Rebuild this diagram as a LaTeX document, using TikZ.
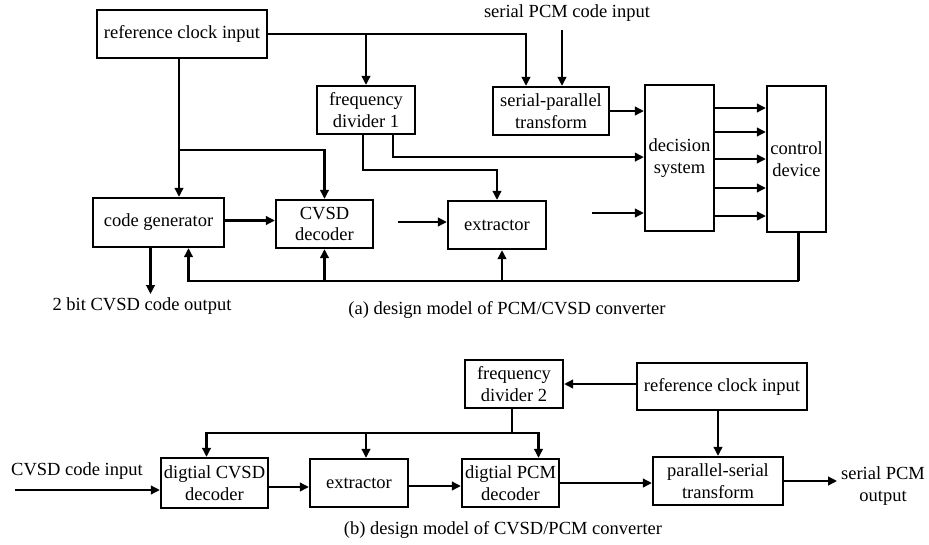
\documentclass[tikz,border=0pt]{standalone}
\usepackage{fontspec}
\setmainfont{Liberation Serif}
\usetikzlibrary{arrows.meta,calc}
\begin{document}
\begin{tikzpicture}[x=1pt,y=-1pt,
  every node/.style={font=\fontsize{18.5}{21.5}\selectfont},
  blk/.style={draw,line width=2.2pt,inner sep=0pt,align=center},
  lbl/.style={inner sep=0pt,align=center},
  arr/.style={line width=2.2pt,-{Triangle[length=9pt,width=8.5pt]}},
  ln/.style={line width=2.2pt}]
\useasboundingbox (0,0) rectangle (929,544);
% ---- part (a) ----
\node[blk,minimum width=170pt,minimum height=48pt] (rc1) at (182,34) {reference clock input};
\node[blk,minimum width=98pt,minimum height=48pt] (fd1) at (366,110) {frequency\\divider 1};
\node[blk,minimum width=116pt,minimum height=48pt] (sp) at (551,111) {serial-parallel\\transform};
\node[blk,minimum width=69pt,minimum height=146pt] (ds) at (679.5,158) {decision\\system};
\node[blk,minimum width=59pt,minimum height=146pt] (cd) at (796.5,159) {control\\device};
\node[blk,minimum width=131pt,minimum height=49pt] (cg) at (158.5,222.5) {code generator};
\node[blk,minimum width=97pt,minimum height=48pt] (cvsd) at (324.5,224) {CVSD\\decoder};
\node[blk,minimum width=98pt,minimum height=48pt] (ex1) at (497,225) {extractor};
\node[lbl] (pcmin) at (567,13) {serial PCM code input};
\node[lbl] (cgout) at (142,306) {2 bit CVSD code output};
\node[lbl] (capa) at (507,310) {(a) design model of PCM/CVSD converter};
\coordinate (pcmtop) at (562,30);
\coordinate (dsin) at (592,213);
\coordinate (exin) at (398,222);
% connectors (a)
\draw[arr] (rc1.east) -| ([xshift=-25pt]sp.north);
\draw[arr] (rc1.east -| fd1.north) -- (fd1.north);
\draw[arr] (pcmtop) -- (pcmtop |- sp.north);
\draw[arr] ([xshift=-3pt]rc1.south) -- ([xshift=-3pt]rc1.south |- cg.north);
\draw[arr] ($(rc1.south)+(-3,91)$) -| (cvsd.north);
\draw[arr] ([xshift=-3pt]fd1.south) -- ++(0,35) -| (ex1.north);
\draw[arr] ([xshift=27pt]fd1.south) -- ++(0,22) coordinate (k) -- (k -| ds.west);
\draw[arr] (sp.east) -- (sp.east -| ds.west);
\draw[arr] (dsin) -- (dsin -| ds.west);
\foreach \d in {-50,-26,1,30,58}
  \draw[arr] ($(ds.east)+(0,\d)$) -- ($(ds.east -| cd.west)+(0,\d)$);
\draw[ln] ([xshift=2pt]cd.south) -- ++(0,48) coordinate (fbR);
\draw[arr] (fbR) -| ([xshift=30pt]cg.south);
\draw[arr] (fbR -| cvsd.south) -- (cvsd.south);
\draw[arr] ([xshift=5pt]fbR -| ex1.south) -- ([xshift=5pt]ex1.south);
\draw[arr] ([yshift=2pt]cg.east) -- ([yshift=2pt]cg.east -| cvsd.west);
\draw[arr] ([xshift=-8pt]cg.south) -- ++(0,46);
\draw[arr] (exin) -- (exin -| ex1.west);
% ---- part (b) ----
\node[blk,minimum width=98pt,minimum height=48pt] (fd2) at (514,384) {frequency\\divider 2};
\node[blk,minimum width=170pt,minimum height=47pt] (rc2) at (722,386.5) {reference clock input};
\node[blk,minimum width=107pt,minimum height=50pt] (dcv) at (214.5,483) {digtial CVSD\\decoder};
\node[blk,minimum width=98pt,minimum height=48pt] (ex2) at (359,483) {extractor};
\node[blk,minimum width=97pt,minimum height=48pt] (dpcm) at (510.5,483) {digtial PCM\\decoder};
\node[blk,minimum width=130pt,minimum height=48pt] (ps) at (718,481) {parallel-serial\\transform};
\node[lbl] (cin) at (77,471) {CVSD code input};
\node[lbl] (pout) at (883,486) {serial PCM\\output};
\node[lbl] (capb) at (503,530) {(b) design model of CVSD/PCM converter};
\coordinate (cinS) at (15,490);
% connectors (b)
\draw[arr] (rc2.west |- fd2.east) -- (fd2.east);
\draw[arr] (ps.north |- rc2.south) -- (ps.north);
\draw[ln] ([xshift=-2pt]fd2.south) -- ++(0,24) coordinate (bus);
\draw[arr] (bus) -| ([xshift=-8pt]dcv.north);
\draw[arr] (bus) -| ([xshift=28pt]dpcm.north);
\draw[arr] ([xshift=7pt]ex2.north |- bus) -- ([xshift=7pt]ex2.north);
\draw[arr] (cinS) -- (cinS -| dcv.west);
\draw[arr] ([yshift=-4pt]dcv.east) -- ([yshift=-4pt]dcv.east -| ex2.west);
\draw[arr] ([yshift=-3pt]ex2.east) -- ([yshift=-3pt]ex2.east -| dpcm.west);
\draw[arr] (dpcm.east) -- (dpcm.east -| ps.west);
\draw[arr] (ps.east) -- ++(53,0);
\end{tikzpicture}
\end{document}
